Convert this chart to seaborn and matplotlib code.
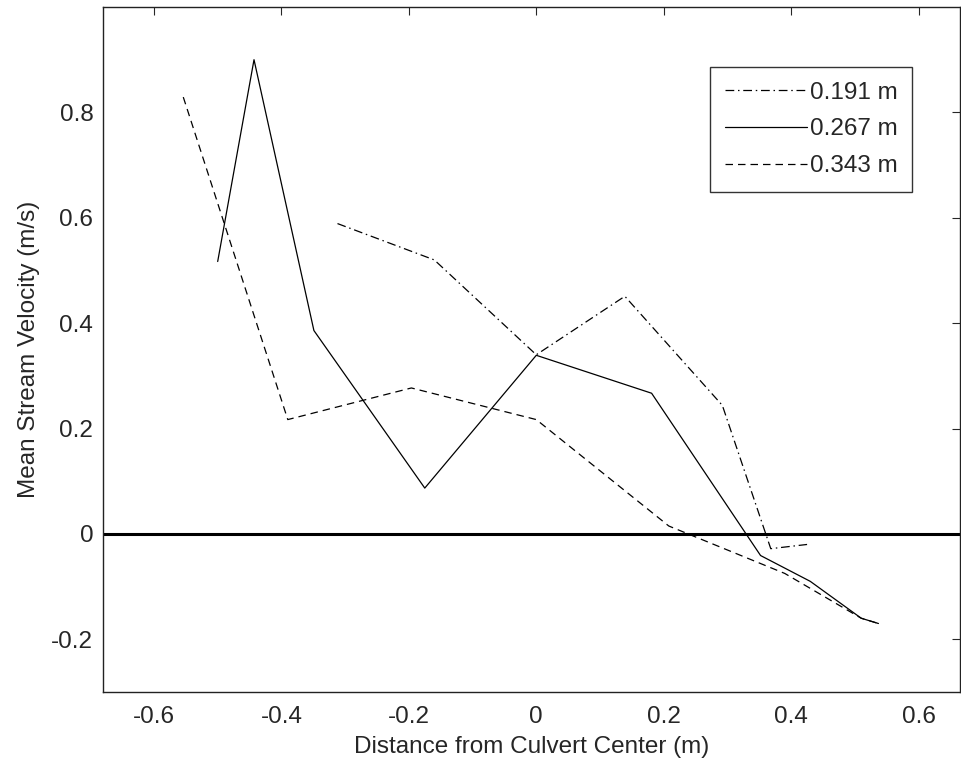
import matplotlib
matplotlib.use("Agg")
import matplotlib.pyplot as plt
import seaborn as sns
import pandas as pd

# Data (distance from culvert center, mean stream velocity)
x_191 = [-0.312, -0.16, 0.0, 0.139, 0.292, 0.368, 0.425]
y_191 = [0.589, 0.52, 0.34, 0.451, 0.244, -0.028, -0.02]

x_267 = [-0.500, -0.443, -0.349, -0.175, 0.0, 0.181, 0.352, 0.43, 0.51, 0.537]
y_267 = [0.517, 0.900, 0.386, 0.087, 0.339, 0.267, -0.041, -0.09, -0.16, -0.17]

x_343 = [-0.554, -0.390, -0.196, 0.0, 0.208, 0.39, 0.51, 0.537]
y_343 = [0.829, 0.217, 0.277, 0.217, 0.015, -0.075, -0.16, -0.17]

labels = ["0.191 m", "0.267 m", "0.343 m"]
xticks = [-0.6, -0.4, -0.2, 0, 0.2, 0.4, 0.6]
yticks = [-0.2, 0, 0.2, 0.4, 0.6, 0.8]

sns.set_style("white")
plt.rcParams["font.family"] = ["Liberation Sans", "DejaVu Sans"]

FS = 17.5
TXT = "#262626"

fig = plt.figure(figsize=(9.61, 7.65), dpi=100)
ax = fig.add_axes([103/961, 73/765, (960-103)/961, (692-7)/765])

styles = [(0, (7, 3, 1.2, 3)), "-", (0, (6, 4))]
for xs, ys, lab, ls in zip([x_191, x_267, x_343], [y_191, y_267, y_343], labels, styles):
    df = pd.DataFrame({"x": xs, "y": ys})
    sns.lineplot(data=df, x="x", y="y", ax=ax, sort=False, estimator=None,
                 color="black", linewidth=0.9, linestyle=ls, label=lab)

ax.axhline(0, color="black", linewidth=2.2, zorder=1)

ax.set_xlim(-0.68, 0.665)
ax.set_ylim(-0.3, 1.0)
ax.set_xticks(xticks)
ax.set_yticks(yticks)
ax.set_xticklabels([f"{t:g}" for t in xticks])
ax.set_yticklabels([f"{t:g}" for t in yticks])
ax.tick_params(direction="in", length=6, width=0.8, top=True, right=True,
               labelsize=FS, colors=TXT)
ax.tick_params(axis="y", pad=7)
ax.tick_params(axis="x", pad=10)
for s in ax.spines.values():
    s.set_color("#222222")
    s.set_linewidth(1.0)

ax.set_xlabel("Distance from Culvert Center (m)", fontsize=FS, color=TXT, labelpad=6)
ax.set_ylabel("Mean Stream Velocity (m/s)", fontsize=FS, color=TXT, labelpad=8)

leg = ax.legend(loc="upper right", bbox_to_anchor=(0.944, 0.912), fontsize=FS,
                handlelength=3.4, handletextpad=0.1, frameon=True, fancybox=False,
                borderpad=0.6, labelspacing=0.6, borderaxespad=0)
leg.get_frame().set_edgecolor("black")
leg.get_frame().set_linewidth(1.0)

fig.savefig("out.png", dpi=100)
